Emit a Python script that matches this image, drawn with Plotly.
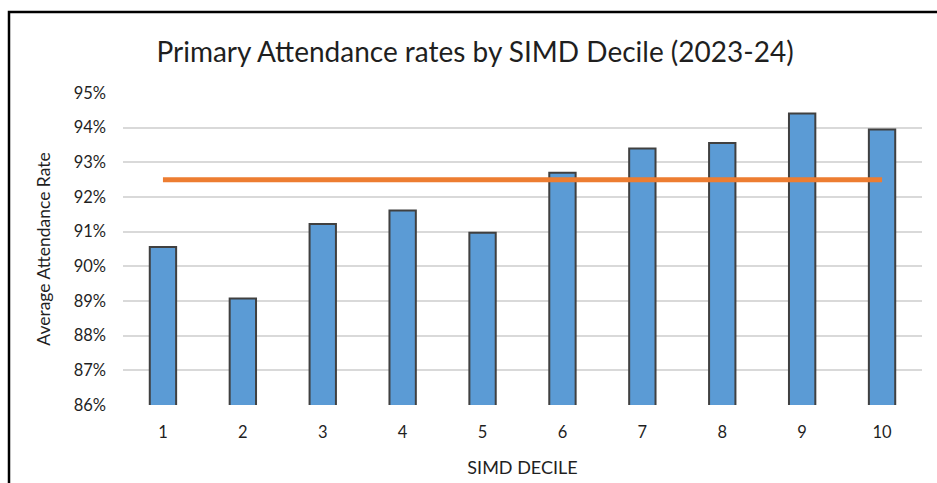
import plotly.graph_objects as go

deciles = ["1", "2", "3", "4", "5", "6", "7", "8", "9", "10"]
attendance = [0.9056, 0.8907, 0.9122, 0.9161, 0.9097, 0.9270, 0.9340, 0.9356, 0.9441, 0.9395]
overall_avg = [0.925, 0.925, 0.925, 0.925, 0.925, 0.925, 0.925, 0.925, 0.925, 0.925]
y_ticks = [0.86, 0.87, 0.88, 0.89, 0.90, 0.91, 0.92, 0.93, 0.94, 0.95]

FONT = "Lato"
TXT = "#1f1f1f"

fig = go.Figure()
fig.add_trace(go.Bar(
    x=deciles, y=attendance, width=0.33,
    marker=dict(color="#5B9BD5", line=dict(color="#404040", width=2)),
    showlegend=False,
))
fig.add_trace(go.Scatter(
    x=deciles, y=overall_avg, mode="lines",
    line=dict(color="#ED7D31", width=5),
    showlegend=False,
))

fig.update_layout(
    width=937, height=483,
    margin=dict(l=123, r=15, t=93, b=78, autoexpand=False),
    paper_bgcolor="white", plot_bgcolor="white",
    font=dict(family=FONT, color=TXT),
    title=dict(text="Primary Attendance rates by SIMD Decile (2023-24)",
               x=0.507, xanchor="center", y=0.892, yanchor="middle",
               font=dict(family=FONT, size=28, color=TXT)),
    xaxis=dict(type="category", showgrid=False, zeroline=False, showline=False, automargin=False,
               ticks="", tickfont=dict(size=16.5, color=TXT), ticklabelstandoff=15,
               title=dict(text="SIMD DECILE", font=dict(size=18, color=TXT), standoff=20)),
    yaxis=dict(range=[0.86, 0.95], tickvals=y_ticks, tickformat=".0%", automargin=False,
               showgrid=True, gridcolor="#D9D9D9", gridwidth=1.5, zeroline=False,
               ticks="", tickfont=dict(size=16.5, color=TXT), ticklabelstandoff=16,
               title=dict(text="Average Attendance Rate", font=dict(size=17.5, color=TXT), standoff=18)),
    shapes=[dict(type="rect", xref="paper", yref="paper",
                 x0=(9 - 123) / 799, x1=(945 - 123) / 799,
                 y0=(405 - 495) / 312, y1=(405 - 12) / 312,
                 line=dict(color="black", width=2.5), fillcolor="rgba(0,0,0,0)", layer="above")],
)

fig.write_html("out.html", config={"displayModeBar": False},
               post_script="document.body.style.margin='0px';document.body.style.overflow='hidden';")
